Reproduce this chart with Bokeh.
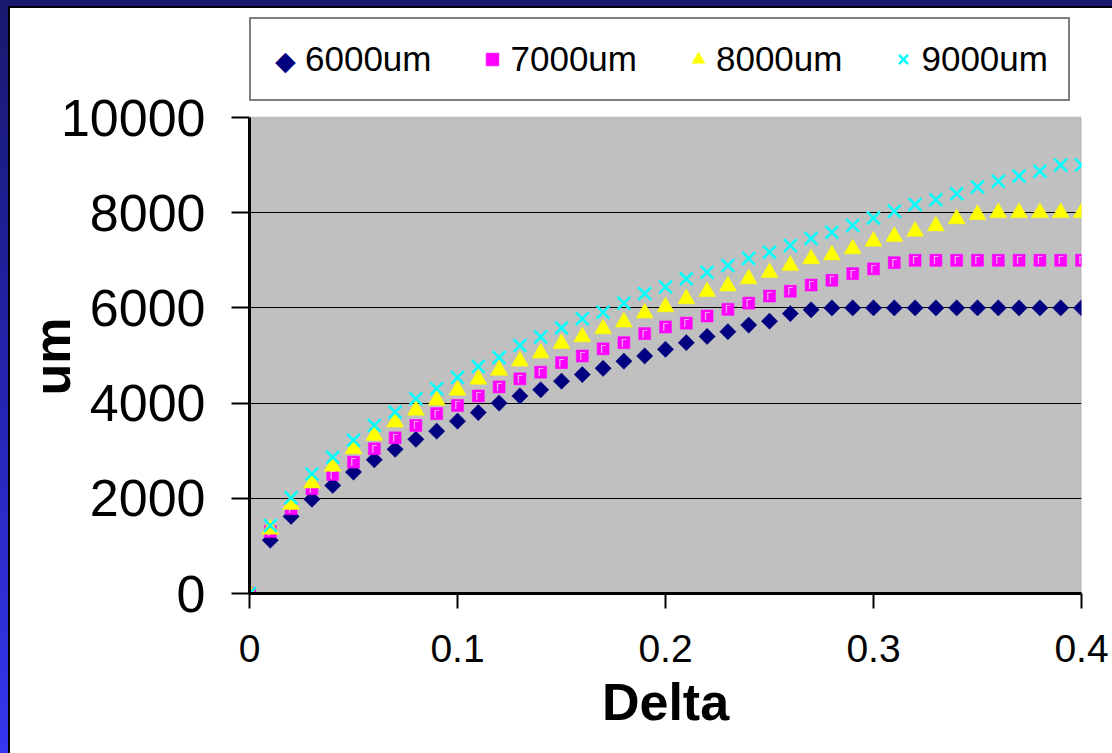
import math

from bokeh.core.properties import value
from bokeh.embed import file_html
from bokeh.models import (BoxAnnotation, ColumnDataSource, FixedTicker, Label,
                          Legend, LegendItem, Range1d, Title)
from bokeh.plotting import figure
from bokeh.resources import INLINE

# Delta values (x) and the measured length (um) for each nominal size
delta = [0.00, 0.01, 0.02, 0.03, 0.04, 0.05, 0.06, 0.07, 0.08, 0.09,
         0.10, 0.11, 0.12, 0.13, 0.14, 0.15, 0.16, 0.17, 0.18, 0.19,
         0.20, 0.21, 0.22, 0.23, 0.24, 0.25, 0.26, 0.27, 0.28, 0.29,
         0.30, 0.31, 0.32, 0.33, 0.34, 0.35, 0.36, 0.37, 0.38, 0.39, 0.40]

s6000 = [0, 1120, 1620, 1980, 2270, 2550, 2810, 3030, 3240, 3410,
         3620, 3800, 4000, 4150, 4280, 4460, 4600, 4730, 4880, 4990,
         5130, 5270, 5400, 5500, 5640, 5720, 5880, 5960, 6000, 6000,
         6000, 6000, 6000, 6000, 6000, 6000, 6000, 6000, 6000, 6000, 6000]

s7000 = [0, 1300, 1780, 2200, 2500, 2760, 3040, 3270, 3530, 3780,
         3950, 4150, 4340, 4510, 4650, 4850, 4990, 5140, 5270, 5460,
         5600, 5680, 5830, 5970, 6100, 6250, 6350, 6480, 6580, 6720,
         6820, 6950, 7000, 7000, 7000, 7000, 7000, 7000, 7000, 7000, 7000]

s8000 = [0, 1350, 1870, 2320, 2670, 3040, 3320, 3600, 3850, 4060,
         4270, 4500, 4690, 4880, 5050, 5250, 5390, 5560, 5700, 5890,
         6020, 6190, 6340, 6460, 6610, 6740, 6890, 7030, 7110, 7240,
         7400, 7500, 7610, 7720, 7870, 7960, 8000, 8000, 8000, 8000, 8000]

s9000 = [0, 1430, 2010, 2510, 2860, 3220, 3530, 3810, 4090, 4300,
         4540, 4770, 4960, 5210, 5390, 5580, 5770, 5910, 6100, 6300,
         6440, 6610, 6750, 6890, 7040, 7170, 7310, 7460, 7590, 7730,
         7890, 8030, 8170, 8270, 8400, 8540, 8660, 8770, 8870, 9000, 9000]

series_labels = ["6000um", "7000um", "8000um", "9000um"]

x_ticks = [0, 0.1, 0.2, 0.3, 0.4]
x_tick_labels = ["0", "0.1", "0.2", "0.3", "0.4"]
y_ticks = [0, 2000, 4000, 6000, 8000, 10000]

FONT = "Liberation Sans"
NAVY, MAGENTA, YELLOW, CYAN = "#000080", "#FF00FF", "#FFFF00", "#00FFFF"
GAMMA_COLOR = "#EEC4EE"

# plot area geometry (pixels): the frame reaches up to the legend so the
# legend can live inside it; the grey value area stops at the top y tick
TOP_PAD = 12
PLOT_H = 476
FIG_H = 753
BOTTOM = 160
y_max_view = y_ticks[-1] * (FIG_H - BOTTOM - TOP_PAD) / PLOT_H

src = ColumnDataSource(dict(delta=delta, s6000=s6000, s7000=s7000,
                            s8000=s8000, s9000=s9000))

p = figure(width=1112, height=FIG_H, output_backend="svg", toolbar_location=None,
           x_range=Range1d(x_ticks[0], x_ticks[-1]),
           y_range=Range1d(y_ticks[0], y_max_view),
           min_border_left=249, min_border_right=31,
           min_border_top=TOP_PAD, min_border_bottom=BOTTOM)

# slide-like frame: blue gradient edge, thin black line, white chart area
p.border_fill_color = None
p.styles = {
    "background": (
        "linear-gradient(#ffffff, #ffffff) 10px 8px / 100% 100% no-repeat, "
        "linear-gradient(#000000, #000000) 8px 6px / 100% 100% no-repeat, "
        "linear-gradient(180deg, #19196e 0%, #2222a8 45%, #3636f0 100%)"
    )
}
p.background_fill_color = "white"
p.outline_line_color = None

# grey value area with its grey border
p.add_layout(BoxAnnotation(left=x_ticks[0], right=x_ticks[-1],
                           bottom=y_ticks[0], top=y_ticks[-1],
                           fill_color="#C0C0C0", fill_alpha=1,
                           line_color="#808080", line_width=2, level="image"))

# axes
xa = p.xaxis[0]
ya = p.yaxis[0]
xa.ticker = FixedTicker(ticks=x_ticks)
xa.major_label_overrides = {t: lab for t, lab in zip(x_ticks, x_tick_labels)}
ya.ticker = FixedTicker(ticks=y_ticks)
ya.bounds = (y_ticks[0], y_ticks[-1])

for ax in (xa, ya):
    ax.axis_line_color = "black"
    ax.axis_line_width = 3
    ax.major_tick_line_color = "black"
    ax.major_tick_line_width = 2
    ax.major_tick_in = 0
    ax.minor_tick_line_color = None
    ax.major_label_text_font = FONT
    ax.major_label_text_color = "black"

xa.major_tick_out = 15
xa.major_label_standoff = 26
xa.major_label_text_font_size = "39px"
xa.axis_label = "Delta"
xa.axis_label_text_font = FONT
xa.axis_label_text_font_style = "bold"
xa.axis_label_text_color = "black"
xa.axis_label_text_font_size = "52px"
xa.axis_label_standoff = 8

ya.major_tick_out = 18
ya.major_label_standoff = 26
ya.major_label_text_font_size = "52px"

# vertical "um" caption, centred on the grey value area
p.add_layout(Title(text="um", align="left", offset=198, vertical_align="bottom",
                   standoff=-46, text_font=FONT, text_font_size="52px",
                   text_font_style="bold", text_color="black"), "left")

# grid: horizontal lines only
p.xgrid.grid_line_color = None
p.ygrid.ticker = FixedTicker(ticks=y_ticks[1:-1])
p.ygrid.grid_line_color = "black"
p.ygrid.grid_line_width = 1

# series markers
p.scatter(x="delta", y="s6000", source=src, marker="square", angle=math.pi / 4,
          size=11.5, fill_color=NAVY, line_color=NAVY, line_width=0.5)
r7 = p.scatter(x="delta", y="s7000", source=src, marker="square",
               size=12, fill_color=MAGENTA, line_color=MAGENTA, line_width=0.5)
p.text(x="delta", y="s7000", source=src, text=value("\u0393"),
       text_font=value(FONT), text_font_size=value("10.5px"), text_color=GAMMA_COLOR,
       text_align="center", text_baseline="middle")
r8 = p.scatter(x="delta", y="s8000", source=src, marker="triangle",
               size=17, fill_color=YELLOW, line_color=YELLOW, line_width=0.5)
r9 = p.scatter(x="delta", y="s9000", source=src, marker="x",
               size=18, line_color=CYAN, line_width=2.5)

# legend keys: the diamond key is drawn as a symbol, since legend markers
# are never rotated
key6 = p.scatter(x="delta", y="s6000", source=src, marker="square",
                 fill_alpha=0, line_alpha=0)

p.add_layout(Label(x=36, y=533, x_units="screen", y_units="screen", text="\u25c6",
                   text_font="DejaVu Sans", text_font_size="27px",
                   text_color=NAVY, text_align="center", text_baseline="middle"))

legend = Legend(
    items=[LegendItem(label=lab, renderers=[r])
           for lab, r in zip(series_labels, [key6, r7, r8, r9])],
    location=(0, 492), orientation="horizontal",
    border_line_color="black", border_line_width=2,
    background_fill_alpha=0,
    label_text_font=FONT, label_text_font_size="35px", label_text_color="black",
    glyph_width=32, glyph_height=40, label_height=40,
    label_standoff=2, spacing=45, padding=20, margin=0,
)
p.add_layout(legend)

p.add_layout(Label(x=241.5, y=532, x_units="screen", y_units="screen", text="\u0393",
                   text_font=FONT, text_font_size="10.5px",
                   text_color=GAMMA_COLOR, text_align="center", text_baseline="middle"))

open("out.html", "w").write(file_html(p, INLINE))
